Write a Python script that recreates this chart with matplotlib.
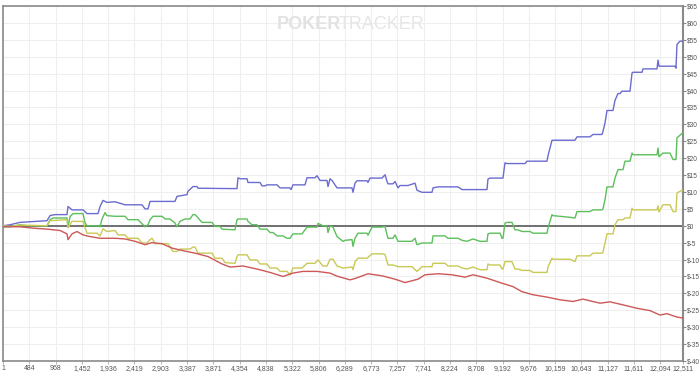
import matplotlib
matplotlib.use('Agg')
import matplotlib.pyplot as plt
from matplotlib.ticker import FuncFormatter

plt.rcParams['font.family'] = ['Liberation Sans', 'DejaVu Sans']

# winnings by hand number ($)
blue_x = [1, 130, 314, 811, 866, 958, 1178, 1197, 1270, 1473, 1546, 1749, 1786, 1841, 1914, 2062, 2246, 2558,
          2614, 2669, 2706, 3165, 3202, 3386, 3404, 3496, 3570, 3588, 4177, 4306, 4324, 4361, 4490, 4508, 4729,
          4766, 4821, 4858, 5042, 5097, 5281, 5300, 5336, 5557, 5594, 5741, 5778, 5833, 5962, 5980, 6017, 6054,
          6146, 6422, 6440, 6477, 6514, 6698, 6716, 6753, 6974, 7029, 7066, 7084, 7176, 7213, 7268, 7305, 7452,
          7581, 7617, 7709, 7893, 7912, 8004, 8372, 8445, 8905, 8923, 8960, 9199, 9236, 9273, 9604, 9641, 10009,
          10027, 10101, 10524, 10561, 10800, 10855, 11021, 11039, 11076, 11113, 11223, 11260, 11315, 11352, 11388,
          11536, 11573, 11591, 11757, 11775, 12033, 12051, 12069, 12364, 12382, 12400, 12455, 12511]
blue_y = [0, 0.3, 1.0, 1.5, 3.0, 3.3, 3.3, 5.7, 4.7, 4.7, 3.6, 3.6, 5.7, 7.5, 6.9, 7.1, 6.2, 6.2,
          5.0, 5.0, 7.2, 7.2, 8.7, 9.2, 10.2, 11.6, 11.6, 11.1, 11.0, 11.0, 14.2, 13.9, 13.9, 12.8, 12.8,
          11.8, 11.8, 12.1, 12.1, 11.2, 11.2, 10.7, 12.1, 12.1, 14.2, 14.2, 14.8, 13.4, 13.4, 11.6, 13.9, 13.4,
          11.2, 11.2, 9.9, 12.6, 13.3, 13.3, 12.8, 14.1, 14.1, 15.1, 13.1, 12.4, 12.4, 13.1, 11.2, 11.9, 11.9,
          12.6, 10.5, 9.9, 9.9, 11.2, 11.5, 11.5, 10.7, 10.7, 13.8, 14.1, 14.1, 18.6, 18.4, 18.4, 19.1, 19.1,
          20.7, 25.3, 25.3, 26.3, 26.3, 27.0, 27.0, 27.9, 30.4, 34.1, 34.1, 37.1, 39.1, 39.1, 39.8,
          39.8, 45.2, 45.4, 45.4, 46.4, 46.4, 49.0, 47.2, 47.2, 46.6, 53.6, 54.6, 54.6]

green_x = [1, 130, 314, 443, 811, 866, 921, 1178, 1197, 1234, 1289, 1473, 1510, 1546, 1749, 1786, 1823, 1878,
           1914, 2062, 2246, 2301, 2485, 2558, 2614, 2669, 2706, 2761, 2926, 2982, 3074, 3165, 3202, 3257, 3349,
           3441, 3496, 3533, 3570, 3662, 3846, 3901, 3993, 4030, 4269, 4306, 4324, 4490, 4508, 4582, 4674, 4729,
           4858, 4913, 4968, 5042, 5153, 5226, 5281, 5336, 5502, 5594, 5778, 5796, 5888, 5962, 5980, 6017, 6072,
           6146, 6256, 6293, 6422, 6440, 6477, 6532, 6698, 6716, 6790, 6974, 7029, 7066, 7084, 7176, 7213, 7268,
           7525, 7581, 7617, 7709, 7893, 7912, 8133, 8188, 8372, 8445, 8537, 8648, 8776, 8905, 8923, 8960, 9144,
           9181, 9199, 9236, 9273, 9365, 9420, 9475, 9549, 9696, 9751, 10009, 10027, 10101, 10119, 10432, 10524,
           10561, 10800, 10855, 11021, 11039, 11076, 11113, 11223, 11260, 11315, 11407, 11444, 11536, 11573,
           11591, 12033, 12051, 12069, 12143, 12272, 12327, 12382, 12400, 12493, 12511]
green_y = [-0.3, -0.3, 0.3, 0, 0, 1.8, 2.3, 2.3, -0.3, 2.7, 3.6, 3.6, 0.9, 0, 0, -0.3, 2.0, 3.9,
           3.0, 2.8, 2.8, 1.8, 1.8, 0.6, -0.3, 0.3, 1.8, 2.8, 2.8, 2.0, 2.0, 0.8, -0.3, 1.3, 2.0,
           2.0, 3.3, 3.3, 2.7, 1.0, 1.0, -0.2, -0.2, -1.0, -1.2, 1.8, 2.0, 2.0, 1.3, 0.3, 0.3, -1.0,
           -1.0, -2.0, -2.0, -3.0, -3.0, -3.7, -3.7, -2.4, -2.4, -0.4, -0.4, 0.7, 0.0, 0.0, -2.0, 0.0, -0.4,
           -3.2, -4.6, -4.3, -4.1, -6.1, -3.7, -2.2, -2.2, -2.8, -0.4, -0.4, -0.2, -2.7, -3.7, -3.7, -2.7, -4.6,
           -4.6, -3.7, -5.6, -5.1, -5.1, -3.0, -3.0, -3.7, -3.7, -4.3, -4.6, -3.9, -4.6, -4.6, -2.4, -2.2, -2.2,
           -3.7, -3.7, 0.8, 1.0, 1.0, -1.2, -1.2, -1.7, -1.7, -2.2, -2.2, -0.7, 3.3, 3.0, 2.5, 2.3,
           4.2, 4.2, 4.7, 4.7, 5.0, 7.7, 11.5, 11.5, 14.1, 16.6, 16.6, 19.1, 19.1, 21.5,
           21.0, 21.0, 23.0, 20.4, 21.5, 21.5, 19.6, 19.6, 26.0, 27.3, 27.3]

yellow_x = [1, 130, 314, 811, 866, 1178, 1197, 1270, 1473, 1510, 1546, 1730, 1786, 1841, 1914, 2062, 2117, 2246,
            2301, 2485, 2558, 2650, 2706, 2742, 2798, 3037, 3129, 3202, 3257, 3441, 3496, 3533, 3588, 3846, 3901,
            4030, 4085, 4269, 4306, 4324, 4490, 4545, 4674, 4729, 4858, 4913, 5042, 5097, 5226, 5281, 5336, 5502,
            5594, 5741, 5796, 5888, 5962, 6017, 6072, 6146, 6256, 6422, 6440, 6477, 6532, 6698, 6790, 6974, 7029,
            7066, 7084, 7176, 7268, 7525, 7617, 7709, 7893, 7912, 8133, 8188, 8372, 8445, 8537, 8648, 8776, 8905,
            8923, 8960, 9144, 9181, 9199, 9236, 9365, 9420, 9475, 9549, 9696, 9751, 10009, 10027, 10101, 10119,
            10432, 10524, 10561, 10800, 10855, 11021, 11039, 11076, 11113, 11223, 11260, 11315, 11407, 11444,
            11536, 11573, 11591, 12033, 12051, 12069, 12143, 12272, 12327, 12382, 12400, 12493, 12511]
yellow_y = [0, -0.2, 0.2, 0, 1.5, 1.8, -0.6, 1.3, 1.3, -0.6, -2.2, -2.2, -3.0, -0.9, -1.7, -1.4, -2.7, -2.7,
            -3.7, -3.7, -5.1, -5.1, -4.1, -3.7, -5.3, -5.3, -7.6, -7.6, -6.9, -6.9, -6.3, -6.3, -8.1, -8.1, -9.6,
            -9.6, -10.9, -11.1, -9.1, -8.6, -8.6, -10.1, -10.1, -11.3, -11.3, -12.5, -12.5, -13.5, -13.5, -14.5,
            -12.5, -12.5, -11.1, -11.1, -10.1, -11.9, -11.9, -9.9, -9.9, -11.9, -12.5, -12.2, -13.0, -10.6, -9.6,
            -9.6, -8.3, -8.3, -8.5, -10.6, -11.6, -11.6, -12.1, -12.1, -13.5, -12.1, -12.1, -11.1, -11.1, -11.9,
            -11.9, -12.5, -12.8, -12.2, -13.0, -13.0, -11.3, -11.6, -11.6, -12.8, -12.8, -10.6, -10.6, -12.8,
            -12.8, -13.2, -13.2, -13.8, -13.8, -12.2, -9.6, -9.9, -9.9, -10.6, -8.9, -8.9, -8.1, -8.1, -7.8,
            -5.1, -2.4, -2.4, 0.3, 1.8, 1.8, 2.3, 2.3, 5.2, 4.7, 4.7, 5.9, 4.1, 6.2, 6.2, 4.2, 4.2, 9.7, 10.5, 10.5]

red_x = [1, 314, 553, 811, 1050, 1178, 1197, 1270, 1362, 1473, 1602, 1786, 2062, 2246, 2430, 2614, 2742, 2926,
         3110, 3294, 3533, 3772, 4030, 4177, 4269, 4416, 4674, 4913, 5153, 5336, 5520, 5778, 6017, 6146, 6385,
         6477, 6716, 6974, 7213, 7397, 7636, 7764, 8004, 8261, 8500, 8648, 8905, 9144, 9383, 9549, 9751, 10009,
         10248, 10487, 10671, 10984, 11168, 11407, 11665, 11904, 12088, 12216, 12400, 12511]
red_y = [-0.3, -0.3, -0.7, -1.0, -1.4, -2.4, -4.1, -2.4, -1.7, -2.7, -3.2, -3.7, -3.7, -3.9, -4.6, -5.6, -5.0,
         -5.3, -6.6, -7.3, -8.1, -9.1, -11.3, -12.2, -12.1, -11.9, -12.8, -13.8, -15.0, -14.0, -13.5, -13.5, -14.0,
         -14.9, -16.0, -15.6, -14.2, -14.8, -15.8, -16.8, -15.8, -14.5, -14.2, -14.5, -15.2, -14.5, -15.5, -16.8,
         -18.0, -19.5, -20.4, -21.1, -21.9, -22.4, -21.7, -22.9, -22.5, -23.4, -24.4, -25.1, -26.4, -26.0, -27.0,
         -27.3]

x_ticks = [1, 484, 968, 1452, 1936, 2419, 2903, 3387, 3871, 4354, 4838, 5322, 5806, 6289, 6773, 7257, 7741,
           8224, 8708, 9192, 9676, 10159, 10643, 11127, 11611, 12094, 12511]
y_ticks = list(range(-40, 70, 5))

fig = plt.figure(figsize=(7, 3.74), dpi=100)
ax = fig.add_axes([3 / 700, 13 / 374, 680 / 700, 355 / 374])

ax.plot(blue_x, blue_y, color='#6b6bd0', lw=1, zorder=3)
ax.plot(green_x, green_y, color='#5cbf5c', lw=1, zorder=3)
ax.plot(yellow_x, yellow_y, color='#c9c955', lw=1, zorder=3)
ax.plot(red_x, red_y, color='#cc5858', lw=1, zorder=3)
ax.axhline(0, color='#707070', lw=1.4, zorder=2)

ax.set_xlim(1, 12511)
ax.set_ylim(-40, 65)
ax.set_xticks(x_ticks)
ax.xaxis.set_major_formatter(FuncFormatter(lambda v, p: f'{int(v):,}'))
ax.set_yticks(y_ticks)
ax.yaxis.set_major_formatter(FuncFormatter(lambda v, p: f'${int(v)}'))
ax.yaxis.tick_right()
ax.tick_params(axis='y', labelsize=4.7, length=2.5, width=0.8, color='#888888', labelcolor='#555555', pad=0.5)
ax.tick_params(axis='x', labelsize=5, length=2, width=0.6, color='#aaaaaa', labelcolor='#555555', pad=1)

ax.grid(True, color='#efefef', lw=0.8, zorder=0)
for s in ax.spines.values():
    s.set_color('#8a8a8a')
    s.set_linewidth(1.2)
ax.spines['right'].set_linewidth(1.5)

fig.text(0.395, 0.935, 'POKER', fontsize=13, fontweight='bold', color='#e2e2e2', ha='left', va='center')
fig.text(0.484, 0.935, 'TRACKER', fontsize=13, color='#e6e6e6', ha='left', va='center')

fig.savefig('out.png', dpi=100)
